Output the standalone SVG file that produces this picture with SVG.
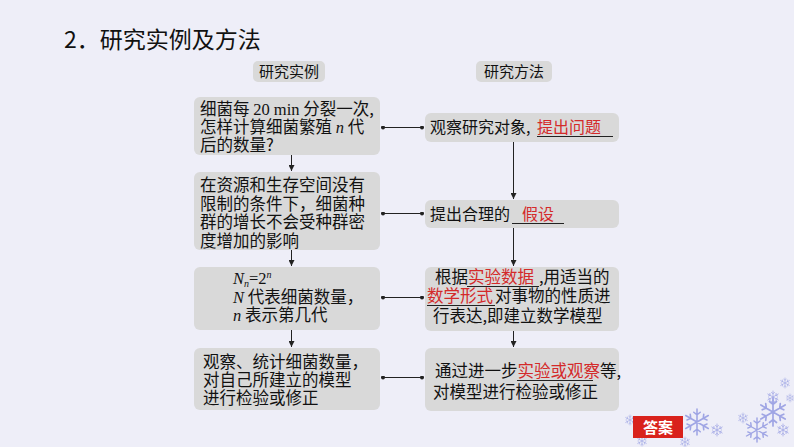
<svg xmlns="http://www.w3.org/2000/svg" width="794" height="447" viewBox="0 0 794 447">
<style>
.box{fill:#d9d9d9;}
.t{font-family:"Noto Sans CJK SC","Noto Sans",sans-serif;fill:#111;}
.s16{font-size:16.5px;}
.s17{font-size:16.5px;}
.red{fill:#d42a2a;}
.it{font-family:"Liberation Serif",serif;font-style:italic;}
.sr{font-family:"Liberation Serif",serif;}
.ln{stroke:#222;stroke-width:1;fill:none;}
.ul{stroke:#222;stroke-width:1;}
.flake{stroke:#8c93e0;fill:none;stroke-linecap:round;}
</style>
<defs>
<marker id="arr" viewBox="0 0 6 6" refX="6" refY="3" markerWidth="6" markerHeight="6" orient="auto" markerUnits="userSpaceOnUse">
<path d="M0,0 L6,3 L0,6 z" fill="#222"/>
</marker>
<marker id="dot" viewBox="0 0 4 4" refX="2" refY="2" markerWidth="4" markerHeight="4" markerUnits="userSpaceOnUse">
<circle cx="2" cy="2" r="2" fill="#222"/>
</marker>
<g id="sf">
<path class="flake" stroke-width="0.12" d="M0,-1 L0,1 M-0.87,-0.5 L0.87,0.5 M-0.87,0.5 L0.87,-0.5 M-0.25,-0.75 L0,-0.55 L0.25,-0.75 M-0.25,0.75 L0,0.55 L0.25,0.75 M-0.77,-0.16 L-0.48,-0.28 L-0.52,-0.6 M0.77,0.16 L0.48,0.28 L0.52,0.6 M0.77,-0.16 L0.48,-0.28 L0.52,-0.6 M-0.77,0.16 L-0.48,0.28 L-0.52,0.6"/>
</g>
</defs>
<rect width="794" height="447" fill="#eeeef8"/>

<g id="title">
<text class="t" x="64" y="48" font-size="23" fill="#222">2．研究实例及方法</text>
</g>

<g id="hdr-left">
<rect class="box" x="253" y="61" width="72" height="21" rx="5"/>
<text class="t" x="289" y="77" font-size="15" text-anchor="middle">研究实例</text>
</g>
<g id="hdr-right">
<rect class="box" x="476" y="61" width="76" height="21" rx="5"/>
<text class="t" x="514" y="77" font-size="15" text-anchor="middle">研究方法</text>
</g>

<g id="L1">
<rect class="box" x="194" y="97" width="186" height="58" rx="6"/>
<text class="t s16" x="200" y="115">细菌每 <tspan class="sr">20 min</tspan> 分裂一次,</text>
<text class="t s16" x="200" y="133">怎样计算细菌繁殖 <tspan class="it">n</tspan> 代</text>
<text class="t s16" x="200" y="151">后的数量?</text>
</g>
<g id="L2">
<rect class="box" x="194" y="172" width="186" height="78" rx="6"/>
<text class="t s17" x="200" y="191">在资源和生存空间没有</text>
<text class="t s17" x="200" y="209.5">限制的条件下，细菌种</text>
<text class="t s17" x="200" y="228">群的增长不会受种群密</text>
<text class="t s17" x="200" y="246.5">度增加的影响</text>
</g>
<g id="L3">
<rect class="box" x="194" y="267" width="186" height="63" rx="6"/>
<text class="t" x="233" y="284" font-size="16.5"><tspan class="it">N</tspan><tspan class="it" font-size="10" dy="3">n</tspan><tspan class="sr" dy="-3">=2</tspan><tspan class="it" font-size="10" dy="-6">n</tspan></text>
<text class="t s16" x="233" y="303"><tspan class="it">N</tspan> 代表细菌数量，</text>
<text class="t s16" x="233" y="321"><tspan class="it">n</tspan> 表示第几代</text>
</g>
<g id="L4">
<rect class="box" x="194" y="348" width="186" height="62" rx="6"/>
<text class="t s16" x="203" y="368">观察、统计细菌数量，</text>
<text class="t s16" x="203" y="386">对自己所建立的模型</text>
<text class="t s16" x="203" y="404">进行检验或修正</text>
</g>

<g id="R1">
<rect class="box" x="425" y="113" width="194" height="29" rx="6"/>
<text class="t" font-size="16" x="430" y="133">观察研究对象,<tspan class="red" x="537">提出问题</tspan></text>
<line class="ul" x1="537" y1="136.5" x2="613" y2="136.5"/>
</g>
<g id="R2">
<rect class="box" x="425" y="200" width="194" height="28" rx="6"/>
<text class="t" font-size="16" x="430" y="220">提出合理的<tspan class="red" x="522">假设</tspan></text>
<line class="ul" x1="512" y1="223.5" x2="564" y2="223.5"/>
</g>
<g id="R3">
<rect class="box" x="425" y="267" width="194" height="64" rx="6"/>
<text class="t" x="435" y="283" font-size="16.5">根据<tspan class="red">实验数据</tspan><tspan x="539">,用适当的</tspan></text>
<line class="ul" x1="467" y1="286.5" x2="539" y2="286.5"/>
<text class="t" x="427" y="302" font-size="16.5"><tspan class="red">数学形式</tspan><tspan x="495">对事物的性质进</tspan></text>
<line class="ul" x1="427" y1="305.5" x2="495" y2="305.5"/>
<text class="t" x="433" y="322" font-size="16.5">行表达,即建立数学模型</text>
</g>
<g id="R4">
<rect class="box" x="425" y="348" width="194" height="63" rx="6"/>
<text class="t" x="435" y="377" font-size="16.5">通过进一步<tspan class="red">实验或观察</tspan>等,</text>
<line class="ul" x1="517" y1="380.5" x2="593" y2="380.5"/>
<text class="t" x="433" y="398" font-size="16.5">对模型进行检验或修正</text>
</g>

<g id="connectors">
<line class="ln" x1="291.5" y1="155" x2="291.5" y2="171" marker-end="url(#arr)"/>
<line class="ln" x1="291.5" y1="250" x2="291.5" y2="266" marker-end="url(#arr)"/>
<line class="ln" x1="291.5" y1="330" x2="291.5" y2="347" marker-end="url(#arr)"/>
<line class="ln" x1="513.5" y1="142" x2="513.5" y2="199" marker-end="url(#arr)"/>
<line class="ln" x1="513.5" y1="228" x2="513.5" y2="266" marker-end="url(#arr)"/>
<line class="ln" x1="513.5" y1="331" x2="513.5" y2="347" marker-end="url(#arr)"/>
<line class="ln" x1="383" y1="127.5" x2="422" y2="127.5" marker-start="url(#dot)" marker-end="url(#dot)"/>
<line class="ln" x1="383" y1="213.5" x2="422" y2="213.5" marker-start="url(#dot)" marker-end="url(#dot)"/>
<line class="ln" x1="383" y1="297.5" x2="422" y2="297.5" marker-start="url(#dot)" marker-end="url(#dot)"/>
<line class="ln" x1="383" y1="377.5" x2="422" y2="377.5" marker-start="url(#dot)" marker-end="url(#dot)"/>
</g>

<g id="deco" opacity="0.8">
<use href="#sf" transform="translate(697,422) scale(13)"/>
<use href="#sf" transform="translate(717,430) scale(6)"/>
<use href="#sf" transform="translate(773,412) scale(14)"/>
<use href="#sf" transform="translate(757,430) scale(12)"/>
<use href="#sf" transform="translate(783,430) scale(6)"/>
<use href="#sf" transform="translate(743,418) scale(5)"/>
<use href="#sf" transform="translate(773,397) scale(6)"/>
<use href="#sf" transform="translate(785,383) scale(5)"/>
<use href="#sf" transform="translate(790,398) scale(4)"/>
<use href="#sf" transform="translate(630,420) scale(5)"/>
<use href="#sf" transform="translate(642,441) scale(5)"/>
<use href="#sf" transform="translate(685,442) scale(5)"/>
</g>

<g id="answer">
<rect x="633" y="416" width="50" height="22" fill="#d9221c"/>
<text class="t" x="658" y="433" font-size="15" font-weight="bold" style="fill:#fff" text-anchor="middle">答案</text>
</g>
</svg>
